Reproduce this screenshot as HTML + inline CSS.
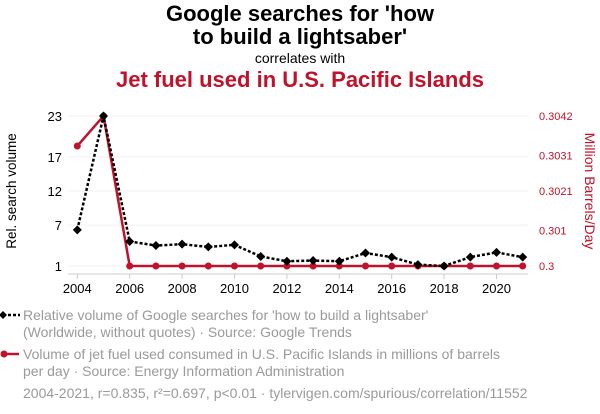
<!DOCTYPE html>
<html><head><meta charset="utf-8"><style>
body{margin:0;width:600px;height:414px;background:#fff;font-family:"Liberation Sans",sans-serif;overflow:hidden}
.t{position:absolute;left:0;width:600px;text-align:center}
.leg{position:absolute;left:23px;color:#9a9a9a;font-size:14px;line-height:16.5px}
</style></head><body>
<div class="t" style="top:2px;font-size:22px;font-weight:bold;line-height:23px;color:#000">Google searches for 'how<br>to build a lightsaber'</div>
<div class="t" style="top:50px;font-size:14px">correlates with</div>
<div class="t" style="top:67px;font-size:22px;font-weight:bold;color:#c0132b">Jet fuel used in U.S. Pacific Islands</div>
<svg id="c" width="600" height="300" style="position:absolute;left:0;top:0"></svg>
<div class="leg" style="top:307px">Relative volume of Google searches for 'how to build a lightsaber'<br>(Worldwide, without quotes) · Source: Google Trends</div>
<div class="leg" style="top:346px">Volume of jet fuel used consumed in U.S. Pacific Islands in millions of barrels<br>per day · Source: Energy Information Administration</div>
<div class="leg" style="top:385px">2004-2021, r=0.835, r²=0.697, p&lt;0.01 · tylervigen.com/spurious/correlation/11552</div>
<svg width="24" height="60" style="position:absolute;left:0;top:305px">
<line x1="3" y1="10" x2="20" y2="10" stroke="#000" stroke-width="2.5" stroke-dasharray="3,2"/>
<polygon points="3,6 7,10 3,14 -1,10" fill="#000"/>
<line x1="3" y1="49" x2="19" y2="49" stroke="#c0132b" stroke-width="2.5"/>
<circle cx="4" cy="49" r="3.5" fill="#c0132b"/>
</svg>
<script>
const years=[2004,2005,2006,2007,2008,2009,2010,2011,2012,2013,2014,2015,2016,2017,2018,2019,2020,2021];
const searches=[6.3,23,4.6,4.0,4.2,3.8,4.1,2.4,1.7,1.8,1.7,2.9,2.3,1.2,1,2.3,3.0,2.3];
const jetfuel=[0.30336,0.3042,0.3,0.3,0.3,0.3,0.3,0.3,0.3,0.3,0.3,0.3,0.3,0.3,0.3,0.3,0.3,0.3];
const leftTicks=[1,7,12,17,23];
const rightTicks=[0.3,0.301,0.3021,0.3031,0.3042];
const xTicks=[2004,2006,2008,2010,2012,2014,2016,2018,2020];
const NS="http://www.w3.org/2000/svg",svg=document.getElementById('c');
const x=v=>77.3+(v-2004)*(522.7-77.3)/17;
const yl=v=>266-(v-1)*150/22;
const yr=v=>266-(v-0.3)*150/0.0042;
function mk(t,a,p){const e=document.createElementNS(NS,t);for(const k in a)e.setAttribute(k,a[k]);(p||svg).appendChild(e);return e;}
leftTicks.forEach(v=>{
const g=mk('line',{x1:68,x2:528,y1:yl(v),y2:yl(v),stroke:'#f0f0f0'});


const t=mk('text',{x:62,y:yl(v)+5,'text-anchor':'end','font-size':13,fill:'#000'});t.textContent=v;


});
rightTicks.forEach(v=>{
const t=mk('text',{x:539,y:yr(v)+4,'font-size':11,fill:'#c0132b'});t.textContent=v;


});
mk('line',{x1:68,x2:528,y1:274,y2:274,stroke:'#ccc'});
xTicks.forEach(v=>{
mk('line',{x1:x(v),x2:x(v),y1:274,y2:279,stroke:'#ccc'});
const t=mk('text',{x:x(v),y:293,'text-anchor':'middle','font-size':13,fill:'#000'});t.textContent=v;


});
let t=mk('text',{transform:'translate(16,191) rotate(-90)','text-anchor':'middle','font-size':13.5,fill:'#000'});t.textContent='Rel. search volume';


t=mk('text',{transform:'translate(585,191) rotate(90)','text-anchor':'middle','font-size':14,fill:'#c0132b'});t.textContent='Million Barrels/Day';


const rl=mk('polyline',{points:years.map((y,i)=>x(y)+','+yr(jetfuel[i])).join(' '),fill:'none',stroke:'#c0132b','stroke-width':2.5});


years.forEach((y,i)=>{const c=mk('circle',{cx:x(y),cy:yr(jetfuel[i]),r:3.5,fill:'#c0132b'});

});
const bl=mk('polyline',{points:years.map((y,i)=>x(y)+','+yl(searches[i])).join(' '),fill:'none',stroke:'#000','stroke-width':2.5,'stroke-dasharray':'3,2'});


years.forEach((y,i)=>{const cx=x(y),cy=yl(searches[i]);
const p=mk('polygon',{points:`${cx},${cy-4.5} ${cx+4.5},${cy} ${cx},${cy+4.5} ${cx-4.5},${cy}`,fill:'#000'});

});
</script>
</body></html>
